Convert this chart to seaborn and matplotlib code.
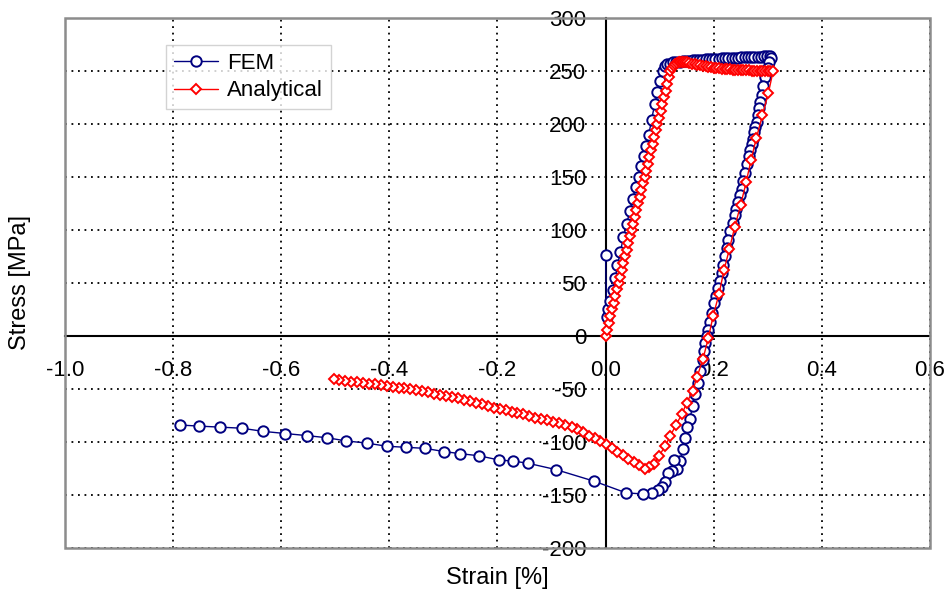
import matplotlib
matplotlib.use("Agg")
import matplotlib.pyplot as plt
import seaborn as sns
from matplotlib.patches import Rectangle

# FEM curve (strain in %, stress in MPa)
fem_load_x = [0.000, 0.002, 0.005, 0.009, 0.013, 0.018, 0.022, 0.027, 0.033, 0.039, 0.045, 0.050,
              0.056, 0.061, 0.066, 0.071, 0.075, 0.080, 0.085, 0.091, 0.096, 0.101, 0.106, 0.110, 0.114]
fem_load_y = [76, 18, 25, 33, 43, 55, 67, 79, 93, 106, 118, 129,
              141, 150, 160, 170, 179, 190, 204, 219, 230, 241, 250, 255, 257]

fem_top_x = [0.119, 0.125, 0.131, 0.137, 0.143, 0.149, 0.155, 0.161, 0.167, 0.173, 0.179, 0.185,
             0.191, 0.197, 0.203, 0.209, 0.215, 0.221, 0.227, 0.233, 0.239, 0.245, 0.251, 0.257,
             0.263, 0.269, 0.275, 0.281, 0.287, 0.293, 0.299, 0.305]
fem_top_y = [257, 258, 258, 258, 259, 259, 259, 260, 260, 260, 260, 261,
             261, 261, 261, 261, 262, 262, 262, 262, 262, 262, 263, 263,
             263, 263, 263, 263, 263, 264, 264, 264]

fem_unload_x = [0.306, 0.303, 0.301, 0.298, 0.295, 0.292, 0.289, 0.286, 0.284, 0.282, 0.280, 0.277,
                0.275, 0.272, 0.270, 0.268, 0.266, 0.262, 0.258, 0.255, 0.252, 0.249, 0.245, 0.242,
                0.239, 0.235, 0.231, 0.227, 0.224, 0.221, 0.218, 0.215, 0.211, 0.208, 0.204, 0.201,
                0.197, 0.193, 0.190, 0.187, 0.184, 0.182, 0.180, 0.175, 0.171, 0.165, 0.161, 0.156,
                0.151, 0.147, 0.143, 0.138, 0.133, 0.127, 0.122, 0.116, 0.110, 0.104, 0.097, 0.086,
                0.069, 0.038]
fem_unload_y = [262, 258, 253, 249, 244, 236, 227, 221, 215, 208, 202, 197,
                192, 186, 181, 175, 170, 162, 154, 146, 139, 133, 126, 120,
                114, 107, 99, 91, 83, 75, 67, 59, 52, 45, 38, 31,
                22, 13, 6, 0, -7, -14, -23, -33, -44, -55, -66, -78,
                -86, -96, -107, -118, -125, -117, -127, -129, -138, -142, -145, -148,
                -149, -148]

fem_comp_x = [-0.021, -0.092, -0.144, -0.171, -0.197, -0.234, -0.269, -0.299, -0.334, -0.370, -0.405,
              -0.442, -0.480, -0.515, -0.552, -0.593, -0.633, -0.673, -0.713, -0.752, -0.787]
fem_comp_y = [-137, -126, -120, -118, -117, -113, -111, -109, -106, -105, -104,
              -101, -99, -96, -94, -92, -90, -87, -86, -85, -84]

# Analytical curve
ana_load_x = [0.000, 0.003, 0.006, 0.009, 0.012, 0.015, 0.018, 0.021, 0.024, 0.027, 0.030, 0.033,
              0.036, 0.039, 0.042, 0.045, 0.048, 0.051, 0.054, 0.057, 0.060, 0.063, 0.066, 0.069,
              0.072, 0.075, 0.078, 0.081, 0.084, 0.087, 0.090, 0.093, 0.096, 0.099, 0.102, 0.105,
              0.108, 0.111, 0.114, 0.117, 0.120]
ana_load_y = [0, 6, 12.5, 19, 25, 31, 37.5, 44, 50, 56, 62.5, 69,
              75, 81, 87.5, 94, 100, 106, 112.5, 119, 125, 131, 137.5, 144,
              150, 156, 162.5, 169, 175, 181, 187.5, 194, 200, 206, 212.5, 219,
              225, 231, 237.5, 244, 250]

ana_top_x = [0.123, 0.126, 0.129, 0.132, 0.135, 0.138, 0.141, 0.144, 0.147, 0.150, 0.155, 0.160,
             0.165, 0.170, 0.175, 0.180, 0.185, 0.190, 0.195, 0.200, 0.205, 0.210, 0.215, 0.220,
             0.225, 0.230, 0.235, 0.240, 0.245, 0.250, 0.255, 0.260, 0.265, 0.270, 0.275, 0.280,
             0.285, 0.290, 0.295, 0.300, 0.305, 0.310]
ana_top_y = [253, 255, 256.5, 257.5, 258, 258.5, 258.5, 258.5, 258, 258, 257.5, 257,
             256.5, 256, 255.5, 255, 254.5, 254, 253.5, 253, 252.5, 252.5, 252, 252,
             251.5, 251.5, 251, 251, 251, 250.5, 250.5, 250.5, 250.5, 250, 250, 250,
             250, 250, 250, 250, 250, 250]

ana_unload_x = [0.301, 0.290, 0.279, 0.269, 0.260, 0.250, 0.239, 0.229, 0.219, 0.210, 0.199, 0.190,
                0.180, 0.169, 0.161, 0.150, 0.141, 0.130, 0.120, 0.110, 0.099, 0.090, 0.081, 0.073]
ana_unload_y = [229, 208, 187, 166, 145, 124, 103, 82, 62, 40, 19, -2,
                -22, -39, -52, -63, -74, -84, -94, -104, -113, -121, -124, -125]

ana_comp_x = [0.062, 0.053, 0.042, 0.032, 0.021, 0.011, 0.001, -0.010, -0.020, -0.030, -0.041, -0.052,
              -0.063, -0.075, -0.086, -0.097, -0.108, -0.119, -0.130, -0.141, -0.152, -0.163, -0.174,
              -0.185, -0.196, -0.207, -0.218, -0.229, -0.240, -0.251, -0.262, -0.273, -0.284, -0.295,
              -0.306, -0.317, -0.328, -0.339, -0.350, -0.361, -0.372, -0.383, -0.394, -0.405, -0.416,
              -0.427, -0.438, -0.449, -0.460, -0.471, -0.482, -0.493, -0.502]
ana_comp_y = [-122, -119, -116, -112, -109, -106, -102, -99, -96.5, -94, -91, -88,
              -86, -84, -82, -81, -79.5, -78, -77, -75.5, -74, -72.7, -71.5,
              -70.2, -69, -67.5, -66, -64.5, -63, -61.5, -60, -58.8, -57.6, -56.5,
              -55.4, -54.3, -53.2, -52.2, -51.2, -50.3, -49.4, -48.6, -47.8, -47, -46.3,
              -45.6, -45, -44.4, -43.8, -43.2, -42.5, -41.6, -40.6]

fem_x = fem_load_x + fem_top_x + fem_unload_x + fem_comp_x
fem_y = fem_load_y + fem_top_y + fem_unload_y + fem_comp_y
ana_x = ana_load_x + ana_top_x + ana_unload_x + ana_comp_x
ana_y = ana_load_y + ana_top_y + ana_unload_y + ana_comp_y

x_ticks = [-1.0, -0.8, -0.6, -0.4, -0.2, 0.0, 0.2, 0.4, 0.6]
y_ticks = [-200, -150, -100, -50, 0, 50, 100, 150, 200, 250, 300]

sns.set_style("white")
plt.rcParams['font.family'] = ['Liberation Sans', 'DejaVu Sans']
plt.rcParams['axes.unicode_minus'] = False
plt.rcParams['text.color'] = 'black'

fig = plt.figure(figsize=(9.5, 6.03), dpi=100)
ax = fig.add_axes([0.0684, 0.0912, 0.9105, 0.879])

sns.lineplot(x=fem_x, y=fem_y, sort=False, estimator=None, ax=ax, color='#000080',
             lw=1.0, marker='o', ms=7.5, mfc='white', mec='#000080', mew=1.4, label='FEM', zorder=3)
sns.lineplot(x=ana_x, y=ana_y, sort=False, estimator=None, ax=ax, color='#ff0000',
             lw=1.0, marker='D', ms=5.2, mfc='white', mec='#ff0000', mew=1.4, label='Analytical', zorder=4)

ax.set_xlim(-1.0, 0.6)
ax.set_ylim(-200, 300)
ax.set_xticks(x_ticks)
ax.set_yticks(y_ticks)
ax.set_xticklabels([f'{v:.1f}' for v in x_ticks])
ax.set_yticklabels([str(v) for v in y_ticks])
ax.set_xlabel('')
ax.set_ylabel('')

# dotted grid
ax.grid(True, color='black', lw=1.3, linestyle=(0, (1.0, 2.6)))
ax.set_axisbelow(True)

# axes crossing at the origin, grey frame round the plot
ax.spines['left'].set_position(('data', 0))
ax.spines['bottom'].set_position(('data', 0))
for s in ['left', 'bottom']:
    ax.spines[s].set_color('black')
    ax.spines[s].set_linewidth(1.5)
    ax.spines[s].set_zorder(2.5)
for s in ['top', 'right']:
    ax.spines[s].set_visible(False)
ax.add_patch(Rectangle((0, 0), 1, 1, transform=ax.transAxes, fill=False,
                       edgecolor='#8c8c8c', lw=1.8, clip_on=False, zorder=5))

ax.tick_params(axis='both', direction='out', length=5, width=1.5, color='black',
               labelsize=16, labelcolor='black')
ax.tick_params(axis='x', pad=12)
ax.tick_params(axis='y', pad=9)

leg = ax.legend(loc='upper left', bbox_to_anchor=(0.1168, 0.949), borderaxespad=0,
                fontsize=16, frameon=True, fancybox=False, handlelength=2.0,
                handletextpad=0.4, borderpad=0.35, labelspacing=0.3)
leg.get_frame().set_edgecolor('#c8c8c8')
leg.get_frame().set_linewidth(1.0)
leg.set_zorder(6)

fig.text(20 / 950, 1 - 283 / 603, 'Stress [MPa]', rotation=90, ha='center', va='center', fontsize=17)
fig.text(497 / 950, 1 - 578 / 603, 'Strain [%]', ha='center', va='center', fontsize=17)

fig.savefig('out.png', dpi=100)
